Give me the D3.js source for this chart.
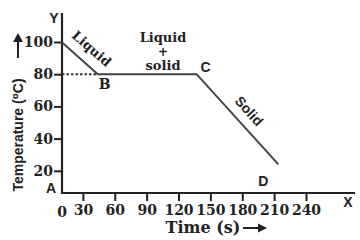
<!DOCTYPE html>
<html>
<head>
<meta charset="utf-8">
<script src="https://cdn.jsdelivr.net/npm/d3@7"></script>
<style>
  body { margin: 0; background: #fff; }
  svg { display: block; }
  .serif { font-family: "DejaVu Serif", serif; font-weight: bold; fill: #222; }
  .sans { font-family: "Liberation Sans", "DejaVu Sans", sans-serif; font-weight: bold; fill: #222; }
</style>
</head>
<body>
<div id="chart"></div>
<script>
// cooling curve: liquid -> liquid+solid -> solid
var times = [10, 44, 137, 214];
var temps = [100, 80, 80, 24];
var pointNames = ["", "B", "C", "D"];
var xTicks = [30, 60, 90, 120, 150, 180, 210, 240];
var yTicks = [20, 40, 60, 80, 100];

var W = 360, H = 240;
var svg = d3.select("#chart").append("svg").attr("width", W).attr("height", H);

var x = d3.scaleLinear().domain([0, 240]).range([51, 306]);
var y = d3.scaleLinear().domain([0, 100]).range([203, 42]);

var ox = 62, oy = 193; // where the axes cross

// x axis
var xa = svg.append("g").attr("transform", "translate(0," + oy + ")")
  .call(d3.axisBottom(x).tickValues(xTicks).tickSize(8).tickPadding(4));
xa.select(".domain").remove();
xa.selectAll("line").attr("stroke", "#222").attr("stroke-width", 2);
xa.selectAll("text").attr("class", "serif").attr("font-size", 14);

// y axis
var ya = svg.append("g").attr("transform", "translate(" + ox + ",0)")
  .call(d3.axisLeft(y).tickValues(yTicks).tickSize(8).tickPadding(1));
ya.select(".domain").remove();
ya.selectAll("line").attr("stroke", "#222").attr("stroke-width", 2);
ya.selectAll("text").attr("class", "serif").attr("font-size", 14);

svg.append("line").attr("x1", ox).attr("x2", 355).attr("y1", oy).attr("y2", oy)
  .attr("stroke", "#222").attr("stroke-width", 2.2);
svg.append("line").attr("x1", ox).attr("x2", ox).attr("y1", 13).attr("y2", oy + 1)
  .attr("stroke", "#222").attr("stroke-width", 2.2);

svg.append("text").attr("class", "serif").attr("font-size", 14)
  .attr("x", ox).attr("y", 217).attr("text-anchor", "middle").text("0");

// dotted reference at the plateau temperature
svg.append("line").attr("x1", ox).attr("x2", x(times[1]))
  .attr("y1", y(temps[1])).attr("y2", y(temps[1]))
  .attr("stroke", "#333").attr("stroke-width", 2).attr("stroke-dasharray", "2.5,2");

// the curve
var pts = times.map(function (t, i) { return [t, temps[i]]; });
svg.append("path").datum(pts)
  .attr("d", d3.line().x(function (d) { return x(d[0]); }).y(function (d) { return y(d[1]); }))
  .attr("fill", "none").attr("stroke", "#444").attr("stroke-width", 2);

// point letters
svg.append("text").attr("class", "serif").attr("font-size", 14).attr("text-anchor", "middle")
  .attr("x", x(times[1]) + 7).attr("y", y(temps[1]) + 15).text(pointNames[1]);
svg.append("text").attr("class", "sans").attr("font-size", 14).attr("text-anchor", "middle")
  .attr("x", x(times[2]) + 9).attr("y", y(temps[2]) - 2).text(pointNames[2]);
svg.append("text").attr("class", "sans").attr("font-size", 14).attr("text-anchor", "middle")
  .attr("x", x(times[3]) - 15).attr("y", 186).text(pointNames[3]);

svg.append("text").attr("class", "sans").attr("font-size", 14).attr("text-anchor", "middle")
  .attr("x", 51).attr("y", 193).text("A");
svg.append("text").attr("class", "sans").attr("font-size", 14).attr("text-anchor", "middle")
  .attr("x", 54).attr("y", 23).text("Y");
svg.append("text").attr("class", "sans").attr("font-size", 14).attr("text-anchor", "middle")
  .attr("x", 348).attr("y", 207).text("X");

// phase labels
var lq = [(x(times[0]) + x(times[1])) / 2, (y(temps[0]) + y(temps[1])) / 2];
svg.append("text").attr("class", "serif").attr("font-size", 13).attr("text-anchor", "middle")
  .attr("transform", "translate(" + (lq[0] + 9) + "," + (lq[1] - 6) + ") rotate(41)")
  .text("Liquid");
var sd = [(x(times[2]) + x(times[3])) / 2, (y(temps[2]) + y(temps[3])) / 2];
svg.append("text").attr("class", "sans").attr("font-size", 14).attr("text-anchor", "middle")
  .attr("transform", "translate(" + (sd[0] + 8) + "," + (sd[1] - 5) + ") rotate(48)")
  .text("Solid");

var mx = 163;
svg.append("text").attr("class", "serif").attr("font-size", 13).attr("text-anchor", "middle")
  .attr("x", mx).attr("y", 42).text("Liquid");
svg.append("text").attr("class", "serif").attr("font-size", 12).attr("text-anchor", "middle")
  .attr("x", mx).attr("y", 56).text("+");
svg.append("text").attr("class", "serif").attr("font-size", 13).attr("text-anchor", "middle")
  .attr("x", mx).attr("y", 70).text("solid");

// axis titles
svg.append("text").attr("class", "sans").attr("font-size", 14).attr("text-anchor", "middle")
  .attr("transform", "translate(23,135) rotate(-90)").text("Temperature (\u2070C)");
svg.append("text").attr("class", "serif").attr("font-size", 16).attr("text-anchor", "middle")
  .attr("x", 203).attr("y", 233).text("Time (s)");

// arrows next to the titles
svg.append("line").attr("x1", 18).attr("x2", 18).attr("y1", 58).attr("y2", 41)
  .attr("stroke", "#222").attr("stroke-width", 2);
svg.append("path").attr("d", "M13,42 L18,33 L23,42 Z").attr("fill", "#222");
svg.append("line").attr("x1", 243).attr("x2", 259).attr("y1", 228).attr("y2", 228)
  .attr("stroke", "#222").attr("stroke-width", 2);
svg.append("path").attr("d", "M258,223.5 L267,228 L258,232.5 Z").attr("fill", "#222");
</script>
</body>
</html>
